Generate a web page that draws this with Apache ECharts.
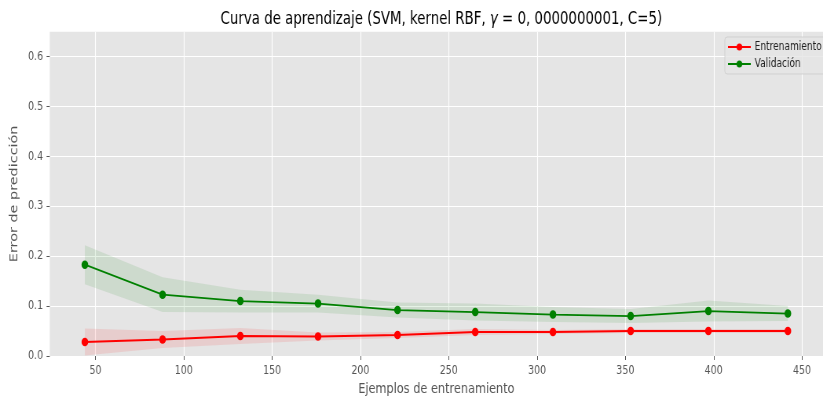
<!DOCTYPE html>
<html>
<head>
<meta charset="utf-8">
<script src="https://cdn.jsdelivr.net/npm/echarts@6/dist/echarts.min.js"></script>
<style>
html,body{margin:0;padding:0;background:#fff;overflow:hidden}
#wrap{width:823px;height:401px;overflow:hidden;position:relative}
#chart{width:1048px;height:401px;transform:scaleX(0.78531);transform-origin:0 0}
</style>
</head>
<body>
<div id="wrap"><div id="chart"></div></div>
<script>
// ---- data ----
const trainSizes = [44, 88, 132, 176, 221, 265, 309, 353, 397, 442];
const trainErr   = [0.028, 0.033, 0.040, 0.039, 0.042, 0.048, 0.048, 0.050, 0.050, 0.050];
const trainStd   = [0.027, 0.017, 0.016, 0.008, 0.006, 0.006, 0.004, 0.004, 0.004, 0.004];
const valErr     = [0.183, 0.123, 0.110, 0.105, 0.092, 0.088, 0.083, 0.080, 0.090, 0.085];
const valStd     = [0.039, 0.035, 0.023, 0.018, 0.015, 0.017, 0.015, 0.014, 0.021, 0.015];
const xTicks = [50, 100, 150, 200, 250, 300, 350, 400, 450];
const yTicks = [0.0, 0.1, 0.2, 0.3, 0.4, 0.5, 0.6];
const seriesNames = ['Entrenamiento', 'Validación'];
const titleText = 'Curva de aprendizaje (SVM, kernel RBF, {i|γ} = 0, 0000000001, C=5)';
const xName = 'Ejemplos de entrenamiento';
const yName = 'Error de predicción';

const FONT = 'DejaVu Sans';
const pair = (xs, ys) => xs.map((x, i) => [x, ys[i]]);

// mean ± std band drawn as one polygon through the axis scales
function band(mean, std, color) {
  return {
    type: 'custom', silent: true, z: 1,
    data: [[trainSizes[0], mean[0]]],
    renderItem: function (params, api) {
      const up = trainSizes.map((x, i) => api.coord([x, mean[i] + std[i]]));
      const lo = trainSizes.map((x, i) => api.coord([x, mean[i] - std[i]])).reverse();
      return { type: 'polygon', shape: { points: up.concat(lo) }, style: { fill: color, stroke: null } };
    }
  };
}

const chart = echarts.init(document.getElementById('chart'), null, { renderer: 'canvas' });
chart.setOption({
  animation: false,
  backgroundColor: '#ffffff',
  textStyle: { fontFamily: FONT },
  graphic: [{
    type: 'text', x: 562, y: 20,
    style: {
      text: titleText, fill: '#000', font: '17px "DejaVu Sans"',
      align: 'center', verticalAlign: 'middle',
      rich: { i: { fontStyle: 'italic', fontSize: 17, fontFamily: FONT, fill: '#000' } }
    }
  }],
  grid: { left: 63.3, top: 31.7, width: 997.4, height: 325, backgroundColor: '#e5e5e5', show: true, borderWidth: 0 },
  legend: {
    data: seriesNames, orient: 'vertical', left: 923, top: 37,
    itemWidth: 29, itemHeight: 9, itemGap: 5, padding: [4, 6, 4, 3],
    backgroundColor: 'rgba(229,229,229,0.8)', borderColor: 'rgba(204,204,204,0.8)', borderWidth: 1, borderRadius: 3,
    textStyle: { fontFamily: FONT, fontSize: 11.5, color: '#222' }
  },
  xAxis: {
    type: 'value', min: 24.1, max: 461.9,
    name: xName, nameLocation: 'middle', nameGap: 26,
    nameTextStyle: { fontFamily: FONT, fontSize: 14.4, color: '#555555' },
    axisLine: { show: false },
    axisTick: { show: true, length: 4, lineStyle: { color: '#555555', width: 1 }, customValues: xTicks },
    axisLabel: { customValues: xTicks, margin: 9, fontFamily: FONT, fontSize: 12, color: '#555555' },
    splitLine: { show: true, lineStyle: { color: '#ffffff', width: 1.2 } }
  },
  yAxis: {
    type: 'value', min: 0, max: 0.65,
    name: yName, nameLocation: 'middle', nameGap: 29,
    nameTextStyle: { fontFamily: FONT, fontSize: 14.4, color: '#555555' },
    axisLine: { show: false },
    axisTick: { show: true, length: 4, lineStyle: { color: '#555555', width: 1 }, customValues: yTicks },
    axisLabel: { customValues: yTicks, margin: 8.5, fontFamily: FONT, fontSize: 12, color: '#555555',
                 formatter: v => v.toFixed(1) },
    splitLine: { show: true, lineStyle: { color: '#ffffff', width: 1.2 } }
  },
  series: [
    band(trainErr, trainStd, 'rgba(255,0,0,0.1)'),
    band(valErr, valStd, 'rgba(0,128,0,0.1)'),
    { type: 'line', name: seriesNames[0], data: pair(trainSizes, trainErr), z: 3,
      symbol: 'circle', symbolSize: 8.5, color: '#ff0000',
      itemStyle: { color: '#ff0000' }, lineStyle: { color: '#ff0000', width: 1.9 } },
    { type: 'line', name: seriesNames[1], data: pair(trainSizes, valErr), z: 4,
      symbol: 'circle', symbolSize: 8.5, color: '#008000',
      itemStyle: { color: '#008000' }, lineStyle: { color: '#008000', width: 1.9 } }
  ]
});
</script>
</body>
</html>
